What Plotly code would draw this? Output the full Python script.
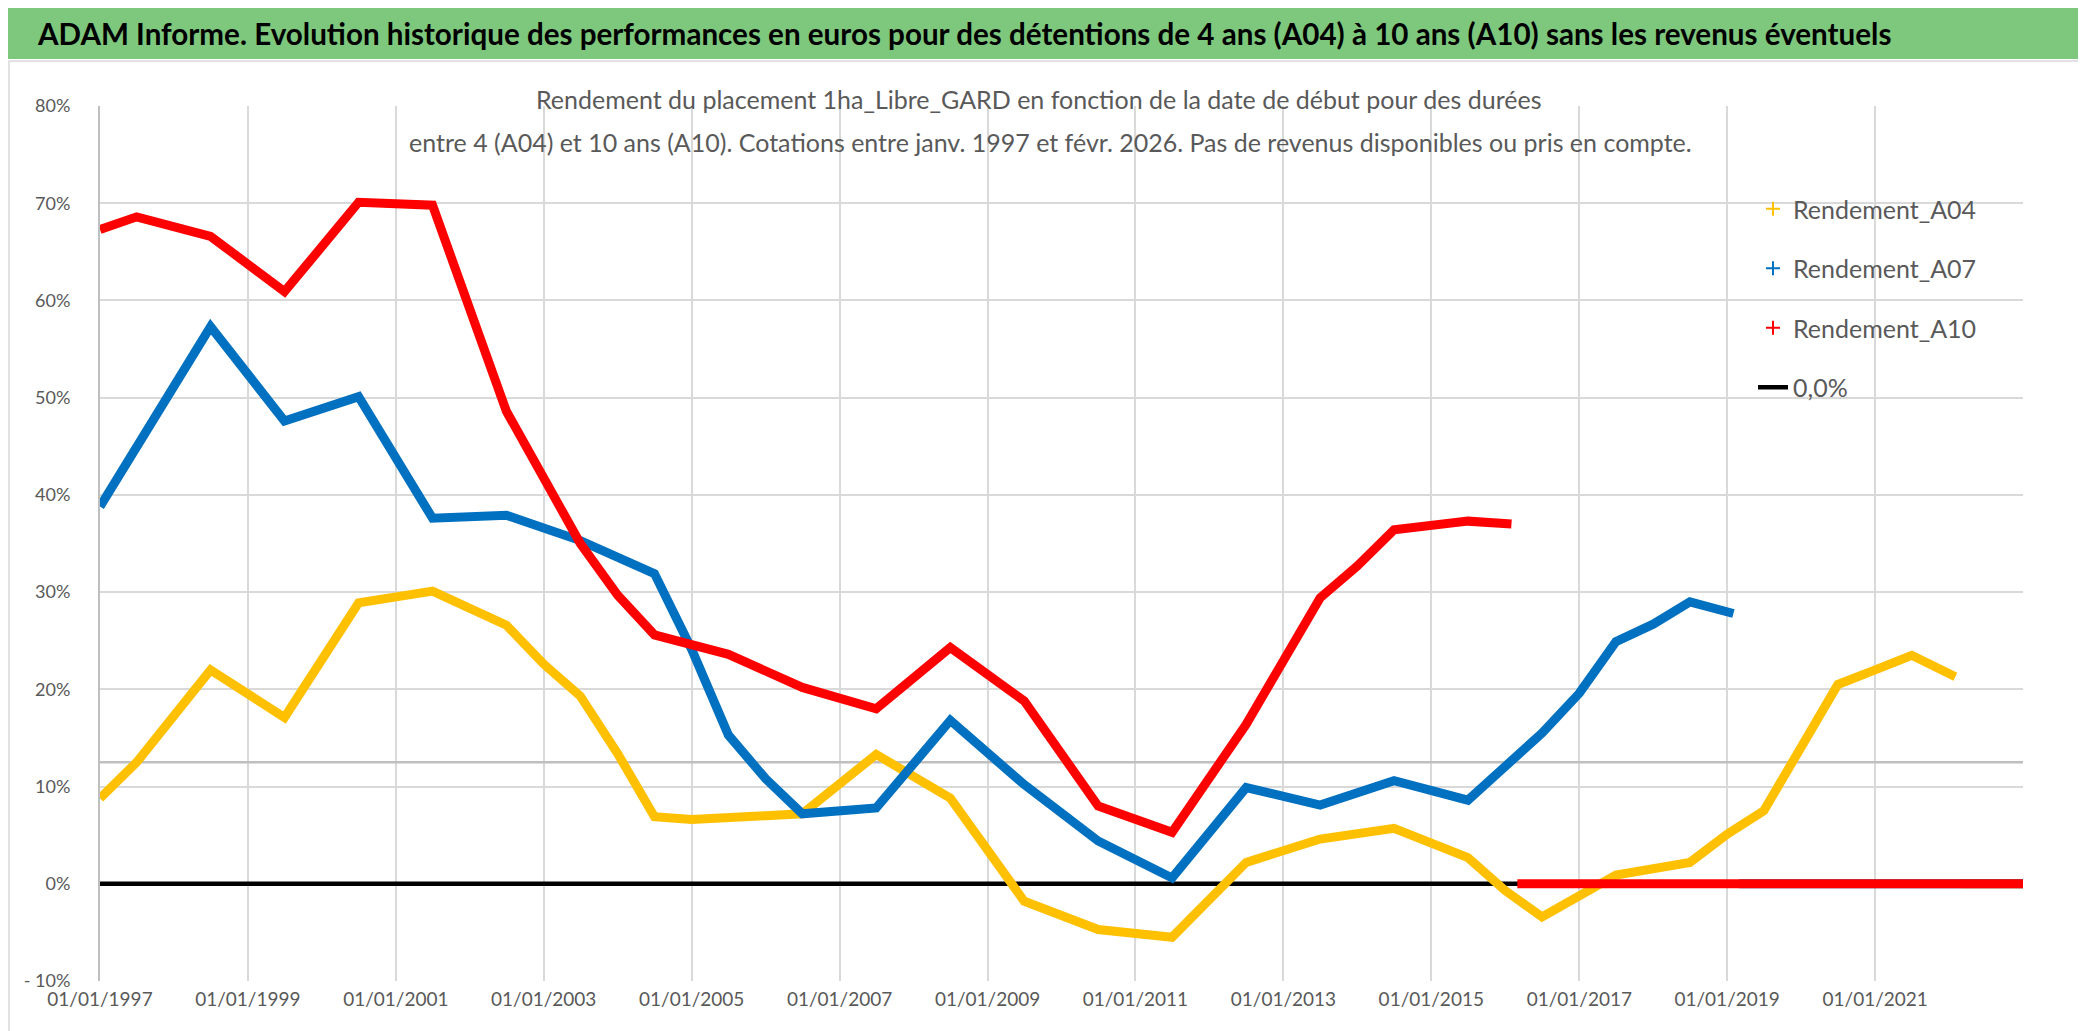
import plotly.graph_objects as go

# ---------------- data ----------------
a04_dates = ["1997-01-01", "1997-07-01", "1998-07-01", "1999-07-01", "2000-07-01", "2001-07-01",
             "2002-07-01", "2003-01-01", "2003-07-01", "2004-01-01", "2004-07-01", "2005-01-01",
             "2006-01-01", "2006-07-01", "2007-07-01", "2008-07-01", "2009-07-01", "2010-07-01",
             "2011-07-01", "2012-07-01", "2013-07-01", "2014-07-01", "2015-07-01", "2016-01-01",
             "2016-07-01", "2017-07-01", "2018-07-01", "2019-01-01", "2019-07-01", "2020-01-01",
             "2020-07-01", "2021-01-01", "2021-07-01", "2022-02-01"]
a04_values = [8.8, 12.5, 22.0, 17.1, 28.9, 30.1,
              26.6, 22.6, 19.3, 13.4, 6.9, 6.6,
              7.0, 7.2, 13.3, 8.8, -1.8, -4.7,
              -5.5, 2.2, 4.6, 5.7, 2.7, -0.7,
              -3.4, 0.9, 2.2, 5.1, 7.5, 14.0,
              20.5, 22.0, 23.5, 21.3]
a04_zero_dates = ["2022-03-01", "2023-01-01"]
a04_zero_values = [0, 0]

a07_dates = ["1997-01-01", "1998-07-01", "1999-07-01", "2000-07-01", "2001-07-01", "2002-07-01",
             "2003-07-01", "2004-07-01", "2005-01-01", "2005-07-01", "2006-01-01", "2006-07-01",
             "2007-07-01", "2008-07-01", "2009-07-01", "2010-07-01", "2011-07-01", "2012-07-01",
             "2013-07-01", "2014-07-01", "2015-07-01", "2016-01-01", "2016-07-01", "2017-01-01",
             "2017-07-01", "2018-01-01", "2018-07-01", "2019-02-01"]
a07_values = [38.8, 57.3, 47.6, 50.1, 37.6, 37.9,
              35.3, 31.9, 24.1, 15.3, 10.8, 7.2,
              7.8, 16.8, 10.2, 4.4, 0.6, 9.9,
              8.1, 10.6, 8.6, 12.1, 15.5, 19.6,
              24.9, 26.7, 29.0, 27.8]
a07_zero_dates = ["2019-03-01", "2023-01-01"]
a07_zero_values = [0, 0]

a10_dates = ["1997-01-01", "1997-07-01", "1998-07-01", "1999-07-01", "2000-07-01", "2001-07-01",
             "2002-07-01", "2003-07-01", "2004-01-01", "2004-07-01", "2005-07-01", "2006-07-01",
             "2007-07-01", "2008-07-01", "2009-07-01", "2010-01-01", "2010-07-01", "2011-07-01",
             "2012-07-01", "2013-07-01", "2014-01-01", "2014-07-01", "2015-07-01", "2016-02-01"]
a10_values = [67.3, 68.6, 66.6, 60.9, 70.1, 69.8,
              48.6, 35.0, 29.7, 25.6, 23.6, 20.2,
              18.0, 24.3, 18.8, 13.4, 8.0, 5.3,
              16.4, 29.4, 32.7, 36.4, 37.3, 37.0]
a10_zero_dates = ["2016-03-01", "2023-01-01"]
a10_zero_values = [0, 0]

zero_dates = ["1997-01-01", "2023-01-01"]
zero_values = [0, 0]

ref_level_dates = ["1997-01-01", "2023-01-01"]
ref_level_values = [12.5, 12.5]

series_names = ["Rendement_A04", "Rendement_A07", "Rendement_A10", "0,0%"]

y_tick_values = [80, 70, 60, 50, 40, 30, 20, 10, 0, -10]
y_tick_labels = ["80%", "70%", "60%", "50%", "40%", "30%", "20%", "10%", "0%", "- 10%"]
x_tick_values = ["1997-01-01", "1999-01-01", "2001-01-01", "2003-01-01", "2005-01-01",
                 "2007-01-01", "2009-01-01", "2011-01-01", "2013-01-01", "2015-01-01",
                 "2017-01-01", "2019-01-01", "2021-01-01", "2023-01-01"]
x_tick_labels = ["01/01/1997", "01/01/1999", "01/01/2001", "01/01/2003", "01/01/2005",
                 "01/01/2007", "01/01/2009", "01/01/2011", "01/01/2013", "01/01/2015",
                 "01/01/2017", "01/01/2019", "01/01/2021", ""]

title_text = ("ADAM Informe. Evolution historique des performances en euros pour des détentions "
              "de 4 ans (A04) à 10 ans (A10) sans les revenus éventuels")
subtitle_line1 = "Rendement du placement 1ha_Libre_GARD en fonction de la date de début pour des durées"
subtitle_line2 = ("entre 4 (A04) et 10 ans (A10). Cotations entre janv. 1997 et févr. 2026. "
                  "Pas de revenus disponibles ou pris en compte.")

# ---------------- layout geometry (pixels) ----------------
W, H = 2086, 1031
PL, PR, PT, PB = 92, 2015, 98, 973
FONT = "Lato, Open Sans, sans-serif"
GREY_TXT = "#595959"
YELLOW, BLUE, RED = "#FFC000", "#0070C0", "#FF0000"


def xp(X):
    return (X - PL) / (PR - PL)


def yp(Y):
    return (PB - Y) / (PB - PT)


fig = go.Figure()

# reference level line (grey, under the series)
fig.add_trace(go.Scatter(x=ref_level_dates, y=ref_level_values, mode="lines",
                         line=dict(color="#BFBFBF", width=2.5), showlegend=False, hoverinfo="skip"))

# zero line
fig.add_trace(go.Scatter(x=zero_dates, y=zero_values, mode="lines", name=series_names[3],
                         line=dict(color="black", width=4.5), legendgroup="g4", legendrank=4))

LW = 9
for d, v, zd, zv, col, nm, rk in [
    (a04_dates, a04_values, a04_zero_dates, a04_zero_values, YELLOW, series_names[0], 1),
    (a07_dates, a07_values, a07_zero_dates, a07_zero_values, BLUE, series_names[1], 2),
    (a10_dates, a10_values, a10_zero_dates, a10_zero_values, RED, series_names[2], 3),
]:
    fig.add_trace(go.Scatter(x=d, y=v, mode="lines", line=dict(color=col, width=LW),
                             showlegend=False, hoverinfo="x+y"))
    fig.add_trace(go.Scatter(x=zd, y=zv, mode="lines", line=dict(color=col, width=LW),
                             showlegend=False, hoverinfo="x+y"))
    # legend entry ("+" marker as in the original)
    fig.add_trace(go.Scatter(x=[None], y=[None], mode="markers", name=nm,
                             marker=dict(symbol="cross-thin", size=10, color=col,
                                         line=dict(color=col, width=2)),
                             legendgroup="g%d" % rk, legendrank=rk))

shapes = [
    # green title banner
    dict(type="rect", xref="paper", yref="paper", x0=xp(0), x1=xp(W), y0=yp(0), y1=yp(51),
         fillcolor="#7DC87D", line=dict(width=0), layer="below"),
    # chart area border
    dict(type="rect", xref="paper", yref="paper", x0=xp(1), x1=xp(2076), y0=yp(53), y1=yp(1027),
         fillcolor="rgba(0,0,0,0)", line=dict(color="#D9D9D9", width=1.5), layer="below"),
    # subtitle white box (hides gridlines)
    dict(type="rect", xref="paper", yref="paper", x0=xp(380), x1=xp(1698), y0=yp(60), y1=yp(158),
         fillcolor="white", line=dict(width=0), layer="between"),
    # legend white box
    dict(type="rect", xref="paper", yref="paper", x0=xp(1702), x1=xp(2014), y0=yp(179), y1=yp(422),
         fillcolor="white", line=dict(width=0), layer="between"),
]

annotations = [
    dict(text="<b>%s</b>" % title_text, xref="paper", yref="paper", x=xp(27), y=yp(25),
         xanchor="left", yanchor="middle", showarrow=False,
         font=dict(family=FONT, size=29.6, color="black")),
    dict(text=subtitle_line1, xref="paper", yref="paper", x=xp(1031), y=yp(91),
         xanchor="center", yanchor="middle", showarrow=False,
         font=dict(family=FONT, size=25, color=GREY_TXT)),
    dict(text=subtitle_line2, xref="paper", yref="paper", x=xp(1042), y=yp(134),
         xanchor="center", yanchor="middle", showarrow=False,
         font=dict(family=FONT, size=25, color=GREY_TXT)),
]

fig.update_layout(
    width=W, height=H,
    margin=dict(l=PL, r=W - PR, t=PT, b=H - PB, autoexpand=False),
    paper_bgcolor="white", plot_bgcolor="white",
    font=dict(family=FONT, color=GREY_TXT),
    shapes=shapes, annotations=annotations,
    showlegend=True,
    legend=dict(x=xp(1745), y=yp(178), xanchor="left", yanchor="top",
                bgcolor="rgba(0,0,0,0)", borderwidth=0,
                font=dict(family=FONT, size=25, color=GREY_TXT),
                traceorder="grouped", tracegroupgap=24),
    xaxis=dict(type="date", range=["1997-01-01", "2023-01-01"],
               tickmode="array", tickvals=x_tick_values, ticktext=x_tick_labels,
               showgrid=True, gridcolor="#D9D9D9", gridwidth=2,
               showline=False, zeroline=False, ticks="", ticklabelstandoff=5,
               tickfont=dict(family=FONT, size=19, color=GREY_TXT)),
    yaxis=dict(range=[-10, 80], tickmode="array", tickvals=y_tick_values, ticktext=y_tick_labels,
               showgrid=True, gridcolor="#D9D9D9", gridwidth=2,
               showline=True, linecolor="#BFBFBF", linewidth=2,
               zeroline=False, ticks="", ticklabelstandoff=24,
               tickfont=dict(family=FONT, size=18, color=GREY_TXT)),
)

fig.write_html("out.html")
